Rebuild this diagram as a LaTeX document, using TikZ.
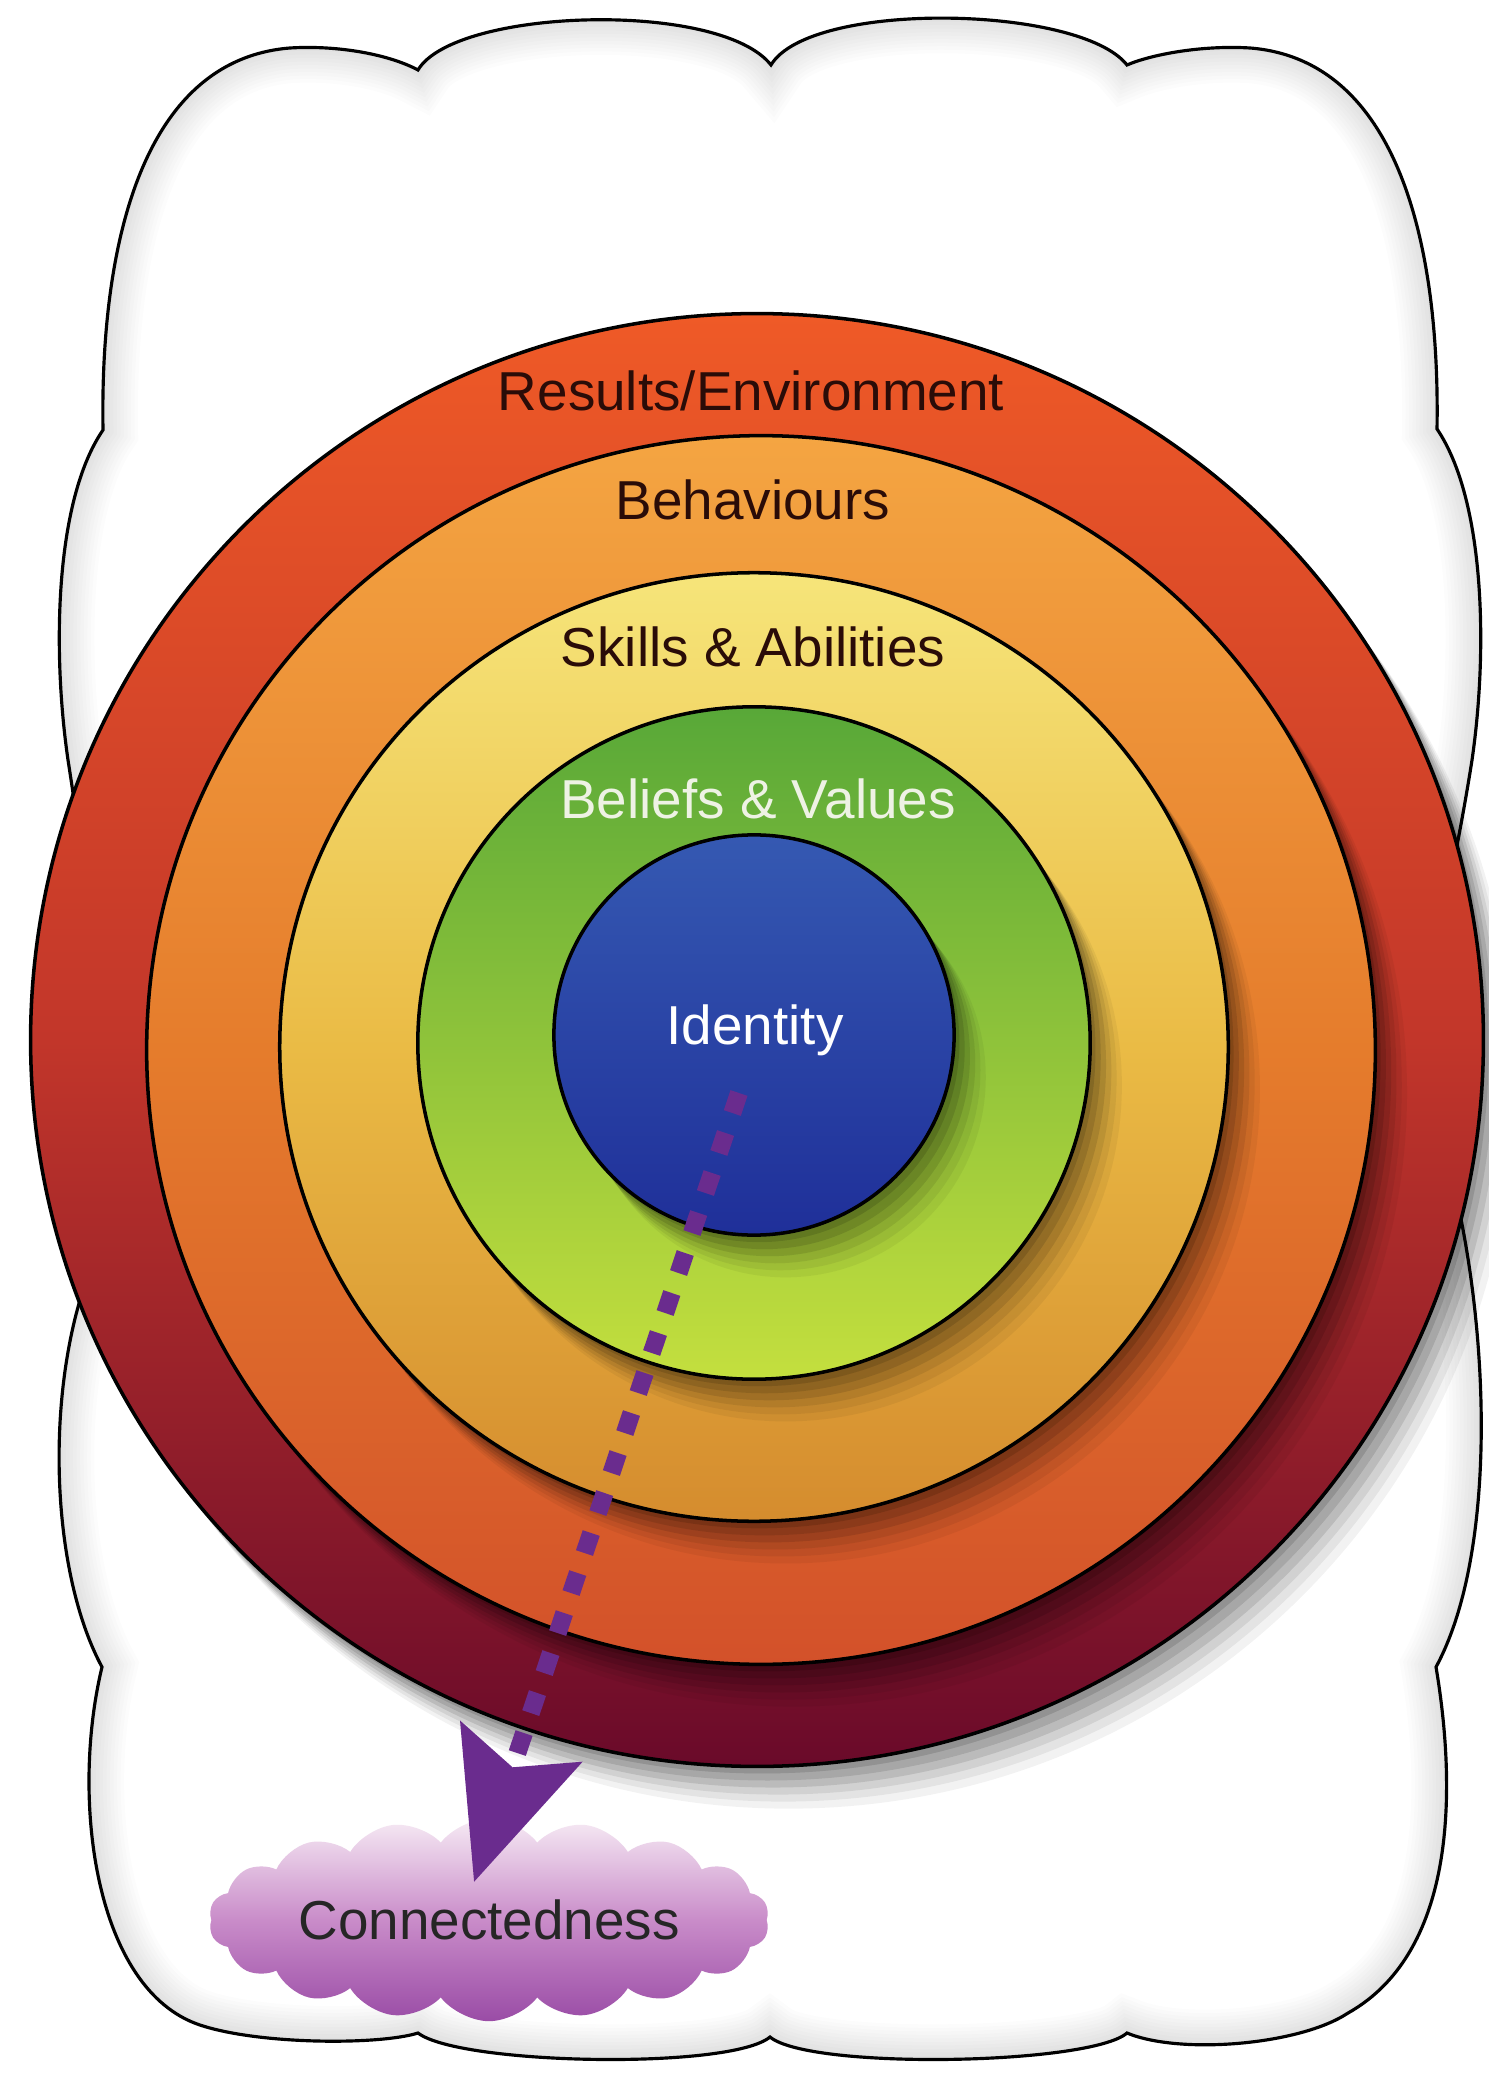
\documentclass[tikz,border=0pt]{standalone}
\usepackage{fontspec}
\setmainfont{Liberation Sans}
\usetikzlibrary{shapes.symbols,shadows,arrows.meta}

\definecolor{restop}{HTML}{EF5A27}
\definecolor{resmid}{HTML}{C2362A}
\definecolor{resbot}{HTML}{6A0A2A}
\definecolor{behtop}{HTML}{F4A542}
\definecolor{behmid}{HTML}{E57C2C}
\definecolor{behbot}{HTML}{D3512A}
\definecolor{skitop}{HTML}{F6E57A}
\definecolor{skimid}{HTML}{EABB45}
\definecolor{skibot}{HTML}{D58C2E}
\definecolor{beltop}{HTML}{58A838}
\definecolor{belmid}{HTML}{8FC33A}
\definecolor{belbot}{HTML}{C4DF3E}
\definecolor{idetop}{HTML}{3559B2}
\definecolor{idebot}{HTML}{1F2F99}
\definecolor{contop}{HTML}{F6EAF4}
\definecolor{conmid}{HTML}{C98CC9}
\definecolor{conbot}{HTML}{9A4CA6}
\definecolor{arrowpurple}{HTML}{6A2C8E}
\definecolor{darktext}{HTML}{2A0C08}
\definecolor{lighttext}{HTML}{EEF2E4}

\newcommand\bigcloud{(418,70)
  .. controls (455,8) and (720,0) .. (771,65)
  .. controls (810,0) and (1080,5) .. (1127,65)
  .. controls (1150,55) and (1200,45) .. (1250,48)
  .. controls (1400,60) and (1440,250) .. (1437,429)
  .. controls (1485,500) and (1488,650) .. (1472,760)
  .. controls (1450,900) and (1420,1000) .. (1420,1080)
  .. controls (1485,1230) and (1510,1530) .. (1436,1667)
  .. controls (1455,1780) and (1460,1950) .. (1348,2013)
  .. controls (1300,2045) and (1180,2055) .. (1127,2033)
  .. controls (1090,2065) and (810,2070) .. (770,2037)
  .. controls (730,2070) and (460,2065) .. (418,2033)
  .. controls (380,2045) and (260,2045) .. (200,2025)
  .. controls (95,1990) and (70,1800) .. (102,1667)
  .. controls (55,1580) and (45,1420) .. (80,1300)
  .. controls (120,1150) and (90,900) .. (68,760)
  .. controls (52,650) and (55,500) .. (103,430)
  .. controls (100,250) and (140,60) .. (290,48)
  .. controls (340,45) and (390,55) .. (418,70) -- cycle}

\tikzset{
  ring/.style={circle,draw=black,line width=1pt,inner sep=0pt,
    drop shadow={shadow xshift=1.5pt,shadow yshift=-2pt,opacity=.12,fill=black},
    drop shadow={shadow xshift=3pt,shadow yshift=-4pt,opacity=.11,fill=black},
    drop shadow={shadow xshift=4.5pt,shadow yshift=-6pt,opacity=.1,fill=black},
    drop shadow={shadow xshift=6pt,shadow yshift=-8pt,opacity=.08,fill=black},
    drop shadow={shadow xshift=7.5pt,shadow yshift=-10pt,opacity=.06,fill=black},
    drop shadow={shadow xshift=9pt,shadow yshift=-12pt,opacity=.05,fill=black}},
  ringtext/.style={font=\fontsize{15.6}{18}\selectfont,inner sep=0pt},
  pathline/.style={draw=arrowpurple,line width=5.1pt,dash pattern=on 6pt off 6pt,
    -{Stealth[length=41.8pt,width=35.9pt,inset=7.4pt]}},
}

\begin{document}
\begin{tikzpicture}[x=0.01cm,y=-0.01cm]
	\useasboundingbox (0,0) rectangle (1488,2077);
	\fill[white] \bigcloud;
	\begin{scope}
		\clip \bigcloud;
		\foreach \w in {2,4,...,20}
			\draw[line width=\w pt,black,opacity=.012] \bigcloud;
	\end{scope}
	\draw[line width=0.9pt] \bigcloud;

	\node[ring,minimum size=14.52cm,top color=restop,bottom color=resbot,middle color=resmid] (results) at (757,1040) {};
	\node[ring,minimum size=12.28cm,top color=behtop,bottom color=behbot,middle color=behmid] (behaviours) at (761,1050) {};
	\node[ring,minimum size=9.48cm,top color=skitop,bottom color=skibot,middle color=skimid] (skills) at (754,1047) {};
	\node[ring,minimum size=6.72cm,top color=beltop,bottom color=belbot,middle color=belmid] (beliefs) at (754,1043) {};
	\node[ring,minimum size=4cm,top color=idetop,bottom color=idebot] (identity) at (754,1035) {};

	\node[ringtext,text=darktext] (reslabel) at (751,391) {Results/Environment};
	\node[ringtext,text=darktext] (behlabel) at (753,500) {Behaviours};
	\node[ringtext,text=darktext] (skilabel) at (753,647) {Skills \& Abilities};
	\node[ringtext,text=lighttext] (bellabel) at (758,799) {Beliefs \& Values};
	\node[ringtext,text=white] (idelabel) at (755,1030) {Identity};

	\node[cloud,cloud puffs=18,cloud puff arc=105,aspect=3.4,inner sep=0pt,
		minimum width=5.6cm,minimum height=1.6cm,
		top color=contop,bottom color=conbot,middle color=conmid,
		ringtext,text=black!85] (connected) at (489,1920) {Connectedness};

	\coordinate (arrowstart) at (739,1093);
	\coordinate (arrowtip) at (474,1882);
	\draw[pathline] (arrowstart) -- (arrowtip);
\end{tikzpicture}
\end{document}
